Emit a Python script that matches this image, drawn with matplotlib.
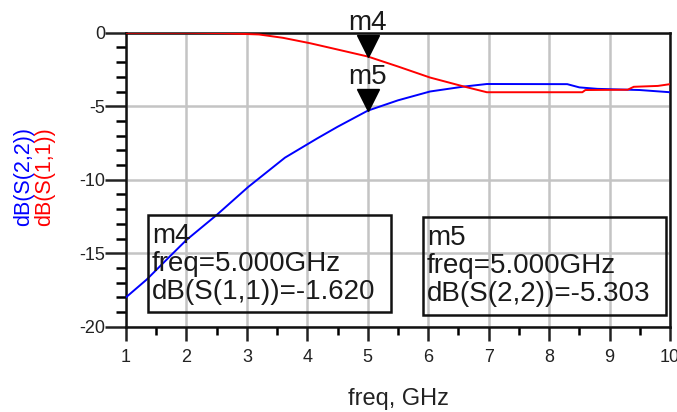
import matplotlib
matplotlib.use("Agg")
import matplotlib.pyplot as plt
from matplotlib.patches import Rectangle
from matplotlib.ticker import MultipleLocator
from matplotlib.transforms import offset_copy

plt.rcParams['font.family'] = ['Liberation Sans', 'DejaVu Sans']

# S-parameter sweep, 1-10 GHz (dB)
freq_s11 = [1.0, 2.0, 2.6, 3.2, 3.6, 4.05, 4.4, 5.0, 5.5, 6.03, 6.58, 6.97,
            8.55, 8.6, 9.3, 9.4, 9.8, 10.0]
s11_db = [0.0, 0.0, -0.03, -0.12, -0.35, -0.72, -1.05, -1.620, -2.3, -3.05,
          -3.65, -4.05, -4.05, -3.9, -3.88, -3.68, -3.62, -3.5]

freq_s22 = [1.0, 1.34, 1.73, 2.0, 2.5, 3.02, 3.63, 4.16, 4.5, 5.0, 5.5, 6.03,
            6.58, 6.97, 8.3, 8.5, 8.8, 9.5, 10.0]
s22_db = [-18.0, -16.8, -15.2, -14.1, -12.4, -10.5, -8.5, -7.2, -6.4, -5.303,
          -4.6, -4.0, -3.67, -3.49, -3.5, -3.72, -3.82, -3.9, -4.05]

# markers placed on the traces
mk_names = ['m4', 'm5']
mk_freq = [5.0, 5.0]
mk_vals = [-1.620, -5.303]
mk_traces = ['dB(S(1,1))', 'dB(S(2,2))']

W, H = 677, 412
fig = plt.figure(figsize=(W / 100, H / 100), dpi=100)
ax = fig.add_axes([126 / W, 1 - 326.7 / H, 544 / W, 294 / H])

ax.plot(freq_s22, s22_db, color='#0000ff', lw=1.4, zorder=3)
ax.plot(freq_s11, s11_db, color='#ff0000', lw=1.4, zorder=3)

ax.set_xlim(1, 10)
ax.set_ylim(-20, 0)
ax.xaxis.set_major_locator(MultipleLocator(1))
ax.xaxis.set_minor_locator(MultipleLocator(0.5))
ax.yaxis.set_major_locator(MultipleLocator(5))
ax.yaxis.set_minor_locator(MultipleLocator(1))
ax.grid(True, which='major', color='#c4c4c4', lw=1.8, zorder=0)
ax.set_axisbelow(True)

for s in ax.spines.values():
    s.set_linewidth(1.8)
    s.set_color('#111111')

ax.tick_params(axis='x', which='major', length=10, width=1.8, pad=6,
               labelsize=13, colors='#222222')
ax.tick_params(axis='x', which='minor', length=6, width=1.8)
ax.tick_params(axis='y', which='major', length=15, width=1.8, pad=0,
               labelsize=13, colors='#222222')
ax.tick_params(axis='y', which='minor', length=7, width=1.8)
ax.set_xticklabels([str(int(v)) for v in ax.get_xticks()])
ax.set_yticklabels([str(int(v)) for v in ax.get_yticks()])

# marker triangles with their tips on the trace, names above
for name, f, v in zip(mk_names, mk_freq, mk_vals):
    tri = offset_copy(ax.transData, fig=fig, x=0, y=11, units='dots')
    ax.plot([f], [v], marker='v', ms=16, color='black', transform=tri,
            clip_on=False, zorder=5)
    lab = offset_copy(ax.transData, fig=fig, x=0, y=27, units='dots')
    ax.text(f, v, name, transform=lab, ha='center', va='baseline',
            fontsize=20, color='#1a1a1a', clip_on=False, zorder=5)

# readout boxes
def px(x, y):
    return x / W, 1 - y / H

boxes = [(148, 215, 391, 312), (423, 217, 666, 315)]
for (x0, y0, x1, y1), name, f, v, tr in zip(boxes, mk_names, mk_freq, mk_vals, mk_traces):
    fig.patches.append(Rectangle(px(x0, y1), (x1 - x0) / W, (y1 - y0) / H,
                                 transform=fig.transFigure, fill=False,
                                 ec='#111111', lw=1.8, zorder=4))
    lines = [name, 'freq=%.3fGHz' % f, '%s=%.3f' % (tr, v)]
    for i, t in enumerate(lines):
        fig.text(*px(x0 + 4, y0 + 28 + 28 * i), t, fontsize=20,
                 color='#1a1a1a', va='baseline', ha='left')

fig.text(*px(398, 405), 'freq, GHz', fontsize=17, color='#222222',
         ha='center', va='baseline')
fig.text(*px(24, 177), 'dB(S(2,2))', fontsize=15.5, color='#0000ff',
         rotation=90, ha='center', va='center')
fig.text(*px(45, 177), 'dB(S(1,1))', fontsize=15.5, color='#ff0000',
         rotation=90, ha='center', va='center')

fig.savefig('out.png', dpi=100)
